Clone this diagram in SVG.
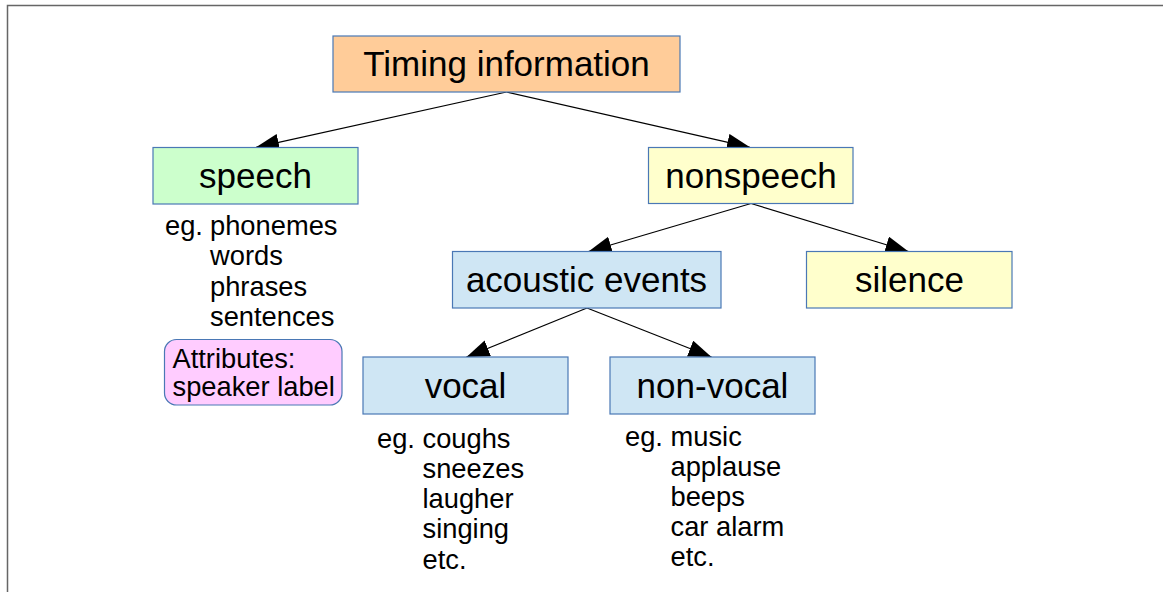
<svg xmlns="http://www.w3.org/2000/svg" width="1163" height="592" viewBox="0 0 1163 592">
<style>
.box{stroke:#4a78b5;stroke-width:1.2}
.lbl{font-family:"Liberation Sans",Arial,sans-serif;font-size:35px;fill:#000;text-anchor:middle}
.txt{font-family:"Liberation Sans",Arial,sans-serif;font-size:27.3px;fill:#000}
.edge{stroke:#000;stroke-width:1.2;fill:none;marker-end:url(#arr)}
</style>
<defs>
<marker id="arr" markerUnits="userSpaceOnUse" markerWidth="26" markerHeight="20" refX="23" refY="8.5" orient="auto">
<path d="M0,0 L23,8.5 L0,17 z" fill="#000"/>
</marker>
</defs>
<rect width="1163" height="592" fill="#fff"/>
<path d="M7.5,592 V5.5 H1163" fill="none" stroke="#666" stroke-width="1.5"/>
<g id="connectors">
<line class="edge" x1="506.5" y1="92" x2="256" y2="147.3"/>
<line class="edge" x1="506.5" y1="92" x2="750" y2="147.3"/>
<line class="edge" x1="751" y1="203.5" x2="588.5" y2="251.5"/>
<line class="edge" x1="751" y1="203.5" x2="908.5" y2="251.5"/>
<line class="edge" x1="587" y1="308" x2="466.5" y2="357"/>
<line class="edge" x1="587" y1="308" x2="711.5" y2="357"/>
</g>
<g id="timing">
<rect class="box" x="333" y="36" width="347" height="56" fill="#ffcc99"/>
<text class="lbl" x="506.5" y="76">Timing information</text>
</g>
<g id="speech">
<rect class="box" x="153" y="147.5" width="205" height="56.5" fill="#ccffcc"/>
<text class="lbl" x="255.5" y="188">speech</text>
</g>
<g id="speech-examples">
<text class="txt" x="165" y="234.5">eg.</text>
<text class="txt" x="210" y="234.5">phonemes</text>
<text class="txt" x="210" y="265">words</text>
<text class="txt" x="210" y="295.5">phrases</text>
<text class="txt" x="210" y="326">sentences</text>
</g>
<g id="attributes">
<rect class="box" x="164.5" y="339.5" width="177.5" height="65.5" rx="12" ry="12" fill="#ffccff"/>
<text class="txt" x="172.5" y="368">Attributes:</text>
<text class="txt" x="172.5" y="396">speaker label</text>
</g>
<g id="nonspeech">
<rect class="box" x="648.5" y="147.5" width="204.5" height="56" fill="#ffffcc"/>
<text class="lbl" x="751" y="188">nonspeech</text>
</g>
<g id="acoustic">
<rect class="box" x="452.5" y="251.5" width="268.5" height="56.5" fill="#cfe6f4"/>
<text class="lbl" x="586.5" y="292">acoustic events</text>
</g>
<g id="silence">
<rect class="box" x="806.5" y="251.5" width="205.5" height="56.5" fill="#ffffcc"/>
<text class="lbl" x="909.5" y="292">silence</text>
</g>
<g id="vocal">
<rect class="box" x="363" y="357" width="205" height="57" fill="#cfe6f4"/>
<text class="lbl" x="465.5" y="398">vocal</text>
</g>
<g id="vocal-examples">
<text class="txt" x="377" y="447.5">eg.</text>
<text class="txt" x="422.5" y="447.5">coughs</text>
<text class="txt" x="422.5" y="477.5">sneezes</text>
<text class="txt" x="422.5" y="508">laugher</text>
<text class="txt" x="422.5" y="538">singing</text>
<text class="txt" x="422.5" y="568.5">etc.</text>
</g>
<g id="nonvocal">
<rect class="box" x="610" y="357" width="205" height="57" fill="#cfe6f4"/>
<text class="lbl" x="712.5" y="398">non-vocal</text>
</g>
<g id="nonvocal-examples">
<text class="txt" x="625" y="445.5">eg.</text>
<text class="txt" x="670.5" y="445.5">music</text>
<text class="txt" x="670.5" y="475.5">applause</text>
<text class="txt" x="670.5" y="505.5">beeps</text>
<text class="txt" x="670.5" y="535.5">car alarm</text>
<text class="txt" x="670.5" y="566">etc.</text>
</g>
</svg>
